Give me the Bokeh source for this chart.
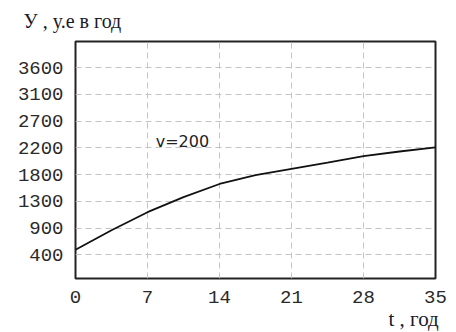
import numpy as np
from bokeh.plotting import figure
from bokeh.models import Label, FixedTicker, Range1d, Title
from bokeh.embed import file_html
from bokeh.resources import INLINE

# ---- data ----
t_years = [0, 3.5, 7, 10.5, 14, 17.5, 21, 24.5, 28, 31.5, 35]
y_income = [485, 820, 1128, 1385, 1610, 1760, 1870, 1975, 2085, 2165, 2235]
x_ticks = [0, 7, 14, 21, 28, 35]
y_tick_labels = ["400", "900", "1300", "1800", "2200", "2700", "3100", "3600"]
y_tick_first, y_tick_last = 400, 3600
curve_label = "v=200"
y_title = "У , у.е в год"
x_title = "t , год"

# evenly spaced tick positions (labels are rounded in the original)
y_ticks = [float(v) for v in np.linspace(y_tick_first, y_tick_last, len(y_tick_labels))]

p = figure(frame_width=360, frame_height=237,
           x_range=Range1d(0, 35), y_range=Range1d(-5, 4045),
           output_backend="svg", toolbar_location=None,
           min_border_left=75, min_border_right=21,
           min_border_top=41, min_border_bottom=54)

p.background_fill_color = "white"
p.border_fill_color = "white"
p.outline_line_color = "#222222"
p.outline_line_width = 2

for ax in (p.xaxis[0], p.yaxis[0]):
    ax.axis_line_color = None
    ax.major_tick_line_color = None
    ax.minor_tick_line_color = None
    ax.major_label_text_font = "Liberation Mono"
    ax.major_label_text_font_size = "19px"
    ax.major_label_text_color = "#2a2a2a"

p.xaxis.ticker = FixedTicker(ticks=x_ticks)
p.yaxis.ticker = FixedTicker(ticks=y_ticks)
p.yaxis.major_label_overrides = {tk: lb for tk, lb in zip(y_ticks, y_tick_labels)}
p.xaxis.major_label_standoff = 6
p.yaxis.major_label_standoff = 6

for g in (p.xgrid[0], p.ygrid[0]):
    g.grid_line_color = "#c4c4c4"
    g.grid_line_dash = "6 4"
    g.grid_line_width = 1

p.line(t_years, y_income, line_color="#111111", line_width=1.8)

p.add_layout(Label(x=7.8, y=2340, text=curve_label, text_font="DejaVu Sans",
                   text_font_size="16px", text_color="#222222",
                   text_baseline="alphabetic"))

# axis titles as side-panel titles
p.add_layout(Title(text=y_title, align="left", offset=-52, standoff=15,
                   vertical_align="top",
                   text_font="Liberation Serif", text_font_size="20px",
                   text_font_style="normal", text_color="#1a1a2a"), "above")
p.add_layout(Title(text=x_title, align="left", offset=313, standoff=0,
                   vertical_align="middle",
                   text_font="Liberation Serif", text_font_size="21px",
                   text_font_style="normal", text_color="#1a1a2a"), "below")

open("out.html", "w").write(file_html(p, INLINE))
